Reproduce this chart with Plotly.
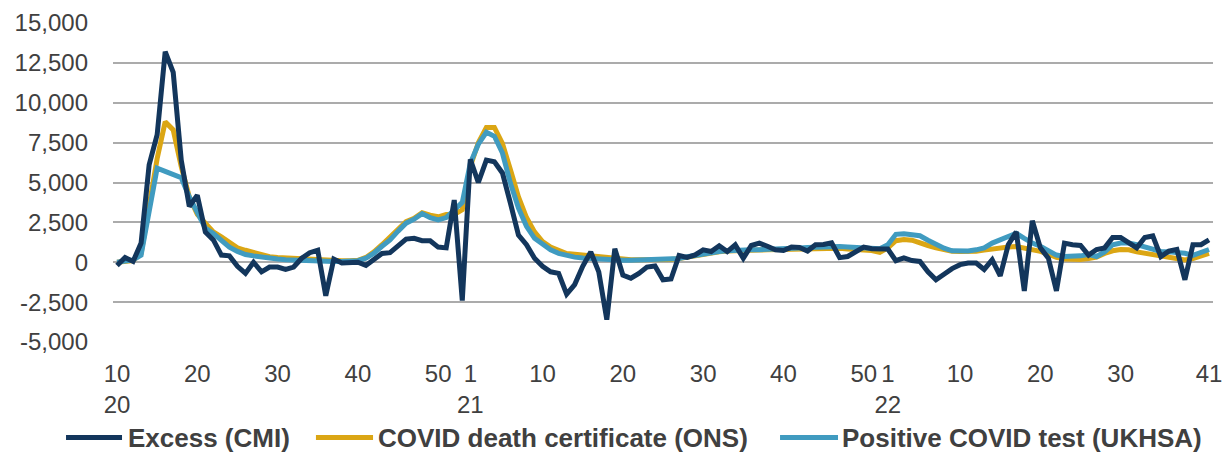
import plotly.graph_objects as go

# ---- categories: ISO weeks from 2020 wk10 to 2022 wk41 ----
years = [2020, 2021, 2022]
first_week = {2020: 10, 2021: 1, 2022: 1}
last_week = {2020: 53, 2021: 52, 2022: 41}
weeks = []
for yr in years:
    for wk in range(first_week[yr], last_week[yr] + 1):
        weeks.append(f"{yr}-W{wk:02d}")

# ---- series values (deaths per week) ----
excess_cmi = [
    -200, 300, 50, 1200, 6100, 8000, 13200, 11900, 6400, 3500,
    4200, 1900, 1400, 450, 400, -250, -700, 0, -600, -300,
    -300, -450, -300, 250, 600, 750, -2100, 200, -50, 0,
    0, -200, 200, 550, 600, 1000, 1450, 1500, 1350, 1350,
    950, 900, 3900, -2400,
    6450, 5000, 6400, 6300, 5600, 3700, 1700, 1100, 250, -250,
    -600, -700, -2000, -1400, -250, 650, -600, -3600, 850, -800,
    -1000, -700, -300, -230, -1100, -1050, 420, 300, 460, 780,
    670, 1030, 670, 1090, 250, 1050, 1200, 1000, 780, 740,
    950, 920, 700, 1100, 1120, 1220, 290, 360, 680, 950,
    850, 830,
    830, 100, 280, 110, 50, -600, -1100, -750, -400, -150,
    -50, -50, -450, 150, -850, 1100, 1900, -1800, 2600, 900,
    250, -1800, 1200, 1100, 1050, 450, 800, 900, 1550, 1550,
    1200, 900, 1550, 1650, 350, 700, 800, -1100, 1100, 1100,
    1400,
]

covid_ons = [
    0, 50, 100, 550, 3600, 6500, 8800, 8300, 6000, 4100,
    3000, 2400, 1900, 1600, 1200, 900, 750, 600, 450, 350,
    300, 270, 230, 200, 170, 140, 120, 100, 100, 100,
    120, 300, 650, 1100, 1550, 2100, 2550, 2750, 3100, 2950,
    2850, 3000, 3000, 3300,
    6000, 7500, 8450, 8450, 7450, 5800, 4100, 2800, 1900, 1300,
    950, 750, 550, 500, 450, 400, 350, 280, 200, 180,
    160, 150, 150, 160, 170, 180, 230, 330, 430, 530,
    600, 660, 710, 740, 760, 770, 770, 780, 790, 810,
    840, 870, 890, 910, 920, 920, 880, 830, 800, 780,
    740, 620,
    900, 1350, 1430, 1380, 1250, 1050, 900, 780, 690, 670,
    670, 690, 760, 850, 920, 960, 980, 900, 800, 680,
    500, 300, 200, 160, 170, 230, 330, 550, 720, 800,
    780, 650, 580, 500, 380, 300, 220, 150, 230, 380,
    550,
]

positive_ukhsa = [
    0, 80, 150, 450, 3300, 5900, 5700, 5500, 5300, 4100,
    3100, 2150, 1800, 1400, 950, 680, 480, 400, 320, 260,
    200, 160, 130, 100, 80, 60, 50, 50, 50, 60,
    100, 250, 570, 1000, 1400, 1950, 2450, 2700, 3050, 2800,
    2650, 2800, 3300, 3750,
    6200, 7400, 8150, 7900, 6850, 4950, 3400, 2250, 1500, 1100,
    780, 560, 400, 320, 270, 230, 200, 170, 140, 130,
    130, 140, 150, 160, 170, 180, 240, 340, 440, 540,
    610, 670, 720, 760, 780, 790, 790, 800, 810, 830,
    860, 900, 930, 950, 970, 980, 980, 950, 920, 900,
    880, 850,
    1100, 1750, 1780, 1740, 1660, 1380, 1100, 880, 720, 680,
    700, 780, 900, 1200, 1420, 1650, 1820, 1500, 1200, 1000,
    700, 450, 360, 360, 400, 480, 360, 650, 1100, 1200,
    1200, 1100, 980, 850, 680, 650, 610, 560, 430, 600,
    800,
]

# ---- axis tick labels ----
x_tick_weeks = ["2020-W10", "2020-W20", "2020-W30", "2020-W40", "2020-W50",
                "2021-W01", "2021-W10", "2021-W20", "2021-W30", "2021-W40", "2021-W50",
                "2022-W01", "2022-W10", "2022-W20", "2022-W30", "2022-W41"]
x_tick_text = ["10<br>20", "20", "30", "40", "50",
               "1<br>21", "10", "20", "30", "40", "50",
               "1<br>22", "10", "20", "30", "41"]
y_tick_vals = [15000, 12500, 10000, 7500, 5000, 2500, 0, -2500, -5000]
y_tick_text = ["15,000", "12,500", "10,000", "7,500", "5,000", "2,500", "0", "-2,500", "-5,000"]

series_names = ["Excess (CMI)", "COVID death certificate (ONS)", "Positive COVID test (UKHSA)"]
series_colors = ["#13365c", "#dba614", "#409bc0"]

FONT = "Liberation Sans, Arial, sans-serif"
TEXT_COLOR = "#404040"

x_idx = list(range(len(weeks)))
tick_idx = [weeks.index(w) for w in x_tick_weeks]

fig = go.Figure()
# draw order: ONS, UKHSA, then Excess on top
for vals, k in [(covid_ons, 1), (positive_ukhsa, 2), (excess_cmi, 0)]:
    fig.add_trace(go.Scatter(
        x=x_idx, y=vals, mode="lines", name=series_names[k],
        line=dict(color=series_colors[k], width=5),
        customdata=weeks, hovertemplate="%{customdata}: %{y:,}<extra></extra>",
        showlegend=False,
    ))

# manual legend (line sample + bold label), matching reference layout
legend_y = -0.2994
legend_items = [(-0.0427, 0.0082, 0.0118), (0.1845, 0.2364, 0.2391), (0.6064, 0.6591, 0.6609)]
for k, (x0, x1, xt) in enumerate(legend_items):
    fig.add_shape(type="line", xref="paper", yref="paper", x0=x0, x1=x1, y0=legend_y, y1=legend_y,
                  line=dict(color=series_colors[k], width=5))
    fig.add_annotation(xref="paper", yref="paper", x=xt, y=legend_y, xanchor="left", yanchor="middle",
                       text=f"<b>{series_names[k]}</b>", showarrow=False,
                       font=dict(family=FONT, size=26, color=TEXT_COLOR))

fig.update_layout(
    width=1226, height=453,
    margin=dict(l=113, r=13, t=23, b=111, autoexpand=False),
    plot_bgcolor="white", paper_bgcolor="white",
    font=dict(family=FONT, size=24, color=TEXT_COLOR),
    showlegend=False,
    xaxis=dict(range=[-0.5, len(weeks) - 0.5], tickmode="array", tickvals=tick_idx, ticktext=x_tick_text,
               tickangle=0, automargin=False, ticklabeloverflow="allow",
               showgrid=False, zeroline=False, showline=False, ticks="", ticklabelstandoff=15,
               tickfont=dict(family=FONT, size=24, color=TEXT_COLOR)),
    yaxis=dict(range=[-5000, 15000], tickmode="array", tickvals=y_tick_vals, ticktext=y_tick_text,
               automargin=False,
               showgrid=True, gridcolor="#ababab", gridwidth=1.5, zeroline=False, showline=False,
               ticks="", ticklabelstandoff=24,
               tickfont=dict(family=FONT, size=24, color=TEXT_COLOR)),
)

# remove the browser's default 8px body margin so the 1226x453 figure fills the window exactly
fig.write_html("out.html", config={"displayModeBar": False},
               post_script="document.body.style.margin='0';document.body.style.overflow='hidden';")
